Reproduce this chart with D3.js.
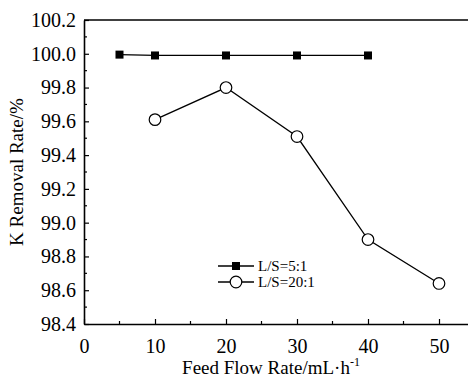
<!DOCTYPE html>
<html>
<head>
<meta charset="utf-8">
<script src="https://cdn.jsdelivr.net/npm/d3@7"></script>
<style>
  body { margin: 0; background: #fff; }
  svg text { font-family: "Liberation Serif", "Times New Roman", "DejaVu Serif", serif !important; }
</style>
</head>
<body>
<svg id="chart"></svg>
<script>
const seriesNames = ["L/S=5:1", "L/S=20:1"];
const flow5 = [5, 10, 20, 30, 40];
const removal5 = [99.995, 99.99, 99.99, 99.99, 99.99];
const flow20 = [10, 20, 30, 40, 50];
const removal20 = [99.61, 99.80, 99.51, 98.90, 98.64];
const xTicks = [0, 10, 20, 30, 40, 50];
const yTicks = [98.4, 98.6, 98.8, 99.0, 99.2, 99.4, 99.6, 99.8, 100.0, 100.2];

const width = 468, height = 381;
const svg = d3.select("#chart").attr("width", width).attr("height", height);

const x = d3.scaleLinear().domain([0, 55]).range([84, 474.5]);
const y = d3.scaleLinear().domain([98.4, 100.2]).range([324, 20]);

// frame top + axes
svg.append("line")
    .attr("x1", x(0)).attr("x2", x(55)).attr("y1", y(100.2)).attr("y2", y(100.2))
    .attr("stroke", "#000").attr("stroke-width", 1.6);

const xAxis = svg.append("g").attr("transform", `translate(0,${y(98.4)})`)
    .call(d3.axisBottom(x).tickValues(xTicks).tickSizeInner(-5).tickSizeOuter(0).tickPadding(10).tickFormat(d3.format("d")));
xAxis.append("g").selectAll("line")
    .data(d3.range(5, 55, 10)).enter().append("line")
    .attr("x1", d => x(d)).attr("x2", d => x(d)).attr("y1", 0).attr("y2", -3)
    .attr("stroke", "#000").attr("stroke-width", 1.2);

const yAxis = svg.append("g").attr("transform", `translate(${x(0)},0)`)
    .call(d3.axisLeft(y).tickValues(yTicks).tickSizeInner(-5).tickSizeOuter(0).tickPadding(8).tickFormat(d3.format(".1f")));
yAxis.append("g").selectAll("line")
    .data(d3.range(98.5, 100.2, 0.2)).enter().append("line")
    .attr("x1", 0).attr("x2", 3).attr("y1", d => y(d)).attr("y2", d => y(d))
    .attr("stroke", "#000").attr("stroke-width", 1.2);

[xAxis, yAxis].forEach(a => {
  a.attr("font-family", null).attr("font-size", null);
  a.select(".domain").attr("stroke-width", 1.6);
  a.selectAll(".tick line").attr("stroke-width", 1.2);
  a.selectAll("text").attr("font-size", 20).attr("fill", "#000");
});
xAxis.selectAll(".tick text").attr("dy", "0.95em");

// axis titles
const xt = svg.append("text")
    .attr("x", 271).attr("y", 374).attr("text-anchor", "middle")
    .attr("font-size", 19);
xt.append("tspan").text("Feed Flow Rate/mL·h");
xt.append("tspan").attr("dy", -8).attr("font-size", 12).text("-1");

svg.append("text")
    .attr("transform", `translate(23,172) rotate(-90)`)
    .attr("text-anchor", "middle").attr("font-size", 19)
    .text("K Removal Rate/%");

// series
const line = d3.line().x(d => x(d[0])).y(d => y(d[1]));
const data5 = flow5.map((f, i) => [f, removal5[i]]);
const data20 = flow20.map((f, i) => [f, removal20[i]]);

svg.append("path").datum(data5).attr("d", line)
    .attr("fill", "none").attr("stroke", "#000").attr("stroke-width", 1.3);
svg.append("path").datum(data20).attr("d", line)
    .attr("fill", "none").attr("stroke", "#000").attr("stroke-width", 1.3);

svg.selectAll(".sq").data(data5).enter().append("rect")
    .attr("x", d => x(d[0]) - 4).attr("y", d => y(d[1]) - 4)
    .attr("width", 8).attr("height", 8).attr("fill", "#000");

svg.selectAll(".ci").data(data20).enter().append("circle")
    .attr("cx", d => x(d[0])).attr("cy", d => y(d[1])).attr("r", 5.8)
    .attr("fill", "#fff").attr("stroke", "#000").attr("stroke-width", 1.2);

// legend
const legend = svg.append("g").attr("transform", "translate(218,266)");
seriesNames.forEach((name, i) => {
  const g = legend.append("g").attr("transform", `translate(0,${i * 16})`);
  g.append("line").attr("x1", 0).attr("x2", 36).attr("y1", 0).attr("y2", 0)
      .attr("stroke", "#000").attr("stroke-width", 1.3);
  if (i === 0) {
    g.append("rect").attr("x", 14).attr("y", -4).attr("width", 8).attr("height", 8).attr("fill", "#000");
  } else {
    g.append("circle").attr("cx", 18).attr("cy", 0).attr("r", 5.8)
        .attr("fill", "#fff").attr("stroke", "#000").attr("stroke-width", 1.2);
  }
  g.append("text").attr("x", 40).attr("y", 0).attr("dy", "0.33em")
      .attr("font-size", 15).text(name);
});
</script>
</body>
</html>
